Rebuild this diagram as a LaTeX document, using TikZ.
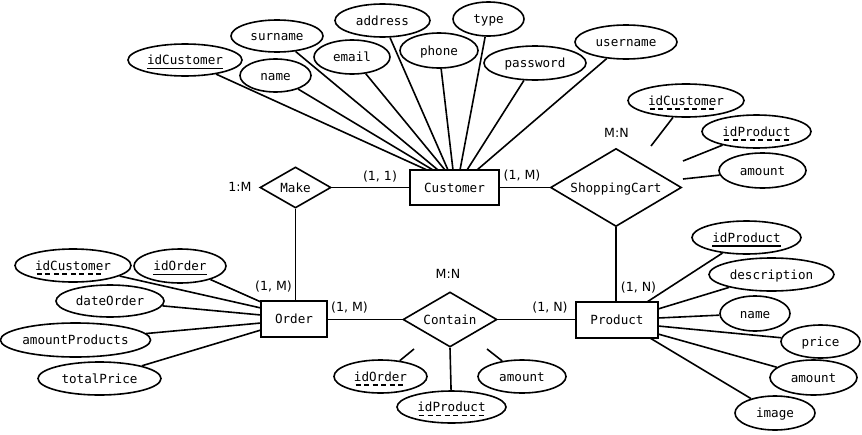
\documentclass[tikz,border=0pt]{standalone}
\usepackage{fontspec}
\setmainfont{DejaVu Sans}
\setmonofont{DejaVu Sans Mono}
\usetikzlibrary{shapes.geometric}
\newsavebox\ulbox
\newcommand\sul[1]{\sbox\ulbox{#1}\rlap{\rule[-4.4pt]{\wd\ulbox}{1.6pt}}\usebox\ulbox}
\newcommand\dul[1]{\sbox\ulbox{#1}\rlap{\hbox to \wd\ulbox{\leaders\hbox to 8.5pt{\hss\rule[-4.4pt]{5pt}{1.6pt}\hss}\hfil}}\usebox\ulbox}
\begin{document}
\begin{tikzpicture}[x=1pt,y=-1pt,line width=1.6pt,
  every node/.style={font=\fontsize{12.6}{15}\selectfont,text height=9.5pt,text depth=0pt,inner sep=0pt},
  attr/.style 2 args={ellipse,draw,minimum width=#1,minimum height=#2,font=\ttfamily\fontsize{12.6}{15}\selectfont},
  ent/.style 2 args={rectangle,draw,minimum width=#1,minimum height=#2,font=\ttfamily\fontsize{12.6}{15}\selectfont},
  rel/.style 2 args={diamond,draw,aspect=1.7,minimum width=#1,minimum height=#2,font=\ttfamily\fontsize{12.6}{15}\selectfont},
  card/.style={font=\fontsize{12.6}{15}\selectfont}]
\useasboundingbox (0,0) rectangle (862,434);

% entities
\node[ent={89}{35}] (cust) at (454.5,187.5) {Customer};
\node[ent={66}{36}] (order) at (294,319) {Order};
\node[ent={82}{36}] (prod) at (617,320) {Product};

% relationships
\node[rel={71}{41}] (make) at (295.5,187.5) {Make};
\node[rel={131}{78}] (sc) at (616,187.5) {ShoppingCart};
\node[rel={94}{55}] (cont) at (450,319.5) {Contain};

% labels
\node[card] (lmake) at (240,187) {1:M};
\node[card] (lsc) at (616.5,133) {M:N};
\node[card] (lcont) at (448,274) {M:N};
\node[card] (k11) at (380,176) {(1, 1)};
\node[card] (k1m) at (522,175) {(1, M)};
\node[card] (ko1) at (273.5,285.5) {(1, M)};
\node[card] (ko2) at (349.5,307) {(1, M)};
\node[card] (kp1) at (550,307) {(1, N)};
\node[card] (kp2) at (638.5,287) {(1, N)};

% customer attributes
\node[attr={114}{32}] (cIdC) at (185,60) {\sul{idCustomer}};
\node[attr={92}{32}] (cSur) at (277,36) {surname};
\node[attr={71}{33}] (cName) at (275.5,75.5) {name};
\node[attr={76}{34}] (cMail) at (352,57) {email};
\node[attr={95}{33}] (cAddr) at (382.5,20.5) {address};
\node[attr={78}{35}] (cPhone) at (439,50.5) {phone};
\node[attr={71}{34}] (cType) at (488.5,19) {type};
\node[attr={102}{34}] (cPass) at (535,63) {password};
\node[attr={102}{34}] (cUser) at (626,42) {username};

% shopping cart attributes
\node[attr={116}{33}] (sIdC) at (686,100.5) {\dul{idCustomer}};
\node[attr={109}{33}] (sIdP) at (756.5,131.5) {\dul{idProduct}};
\node[attr={87}{35}] (sAm) at (762.5,170.5) {amount};

% order attributes
\node[attr={116}{33}] (oIdC) at (73,265.5) {\dul{idCustomer}};
\node[attr={92}{34}] (oIdO) at (180,266) {\sul{idOrder}};
\node[attr={108}{32}] (oDate) at (110,301) {dateOrder};
\node[attr={147}{34}] (oAmP) at (75.5,340) {amountProducts};
\node[attr={123}{33}] (oTot) at (99.5,378.5) {totalPrice};

% contain attributes
\node[attr={93}{33}] (tIdO) at (380.5,376.5) {\dul{idOrder}};
\node[attr={109}{32}] (tIdP) at (451.5,407) {\dul{idProduct}};
\node[attr={88}{33}] (tAm) at (522,376.5) {amount};

% product attributes
\node[attr={109}{33}] (pIdP) at (746.5,237.5) {\sul{idProduct}};
\node[attr={125}{33}] (pDesc) at (771.5,274.5) {description};
\node[attr={70}{35}] (pName) at (755,313.5) {name};
\node[attr={79}{33}] (pPrice) at (820.5,341.5) {price};
\node[attr={87}{35}] (pAm) at (813.5,377.5) {amount};
\node[attr={80}{34}] (pImg) at (775,413) {image};

% end points on entity borders
\coordinate (c1) at (427,170);
\coordinate (c2) at (433,170);
\coordinate (c3) at (438,170);
\coordinate (c4) at (445,170);
\coordinate (c5) at (448,170);
\coordinate (c6) at (453,170);
\coordinate (c7) at (460,170);
\coordinate (c8) at (467,170);
\coordinate (c9) at (477,170);

\coordinate (o1) at (261,302);
\coordinate (o2) at (261,308);
\coordinate (o3) at (261,315);
\coordinate (o4) at (261,323);
\coordinate (o5) at (261,330);

\coordinate (p1) at (647,302);
\coordinate (p2) at (658,309);
\coordinate (p3) at (658,318);
\coordinate (p4) at (658,326);
\coordinate (p5) at (658,334);
\coordinate (p6) at (650,338);

\coordinate (s1) at (651,146);
\coordinate (s2) at (683,161);
\coordinate (s3) at (683,179);

\coordinate (t1) at (414,349);
\coordinate (t3) at (487,349);

% relationship connectors
\draw (make) -- (cust);
\draw (cust) -- (sc);
\draw (make.south) -- (make.south |- order.north);
\draw (sc.south) -- (sc.south |- prod.north);
\draw (cont.west) -- (cont.west -| order.east);
\draw (cont.east) -- (cont.east -| prod.west);

% attribute connectors
\draw (cIdC) -- (c1);
\draw (cName) -- (c2);
\draw (cSur) -- (c3);
\draw (cMail) -- (c4);
\draw (cAddr) -- (c5);
\draw (cPhone) -- (c6);
\draw (cType) -- (c7);
\draw (cPass) -- (c8);
\draw (cUser) -- (c9);

\draw (sIdC) -- (s1);
\draw (sIdP) -- (s2);
\draw (sAm) -- (s3);

\draw (oIdO) -- (o1);
\draw (oIdC) -- (o2);
\draw (oDate) -- (o3);
\draw (oAmP) -- (o4);
\draw (oTot) -- (o5);

\draw (tIdO) -- (t1);
\draw (tIdP) -- (cont.south);
\draw (tAm) -- (t3);

\draw (pIdP) -- (p1);
\draw (pDesc) -- (p2);
\draw (pName) -- (p3);
\draw (pPrice) -- (p4);
\draw (pAm) -- (p5);
\draw (pImg) -- (p6);
\end{tikzpicture}
\end{document}
